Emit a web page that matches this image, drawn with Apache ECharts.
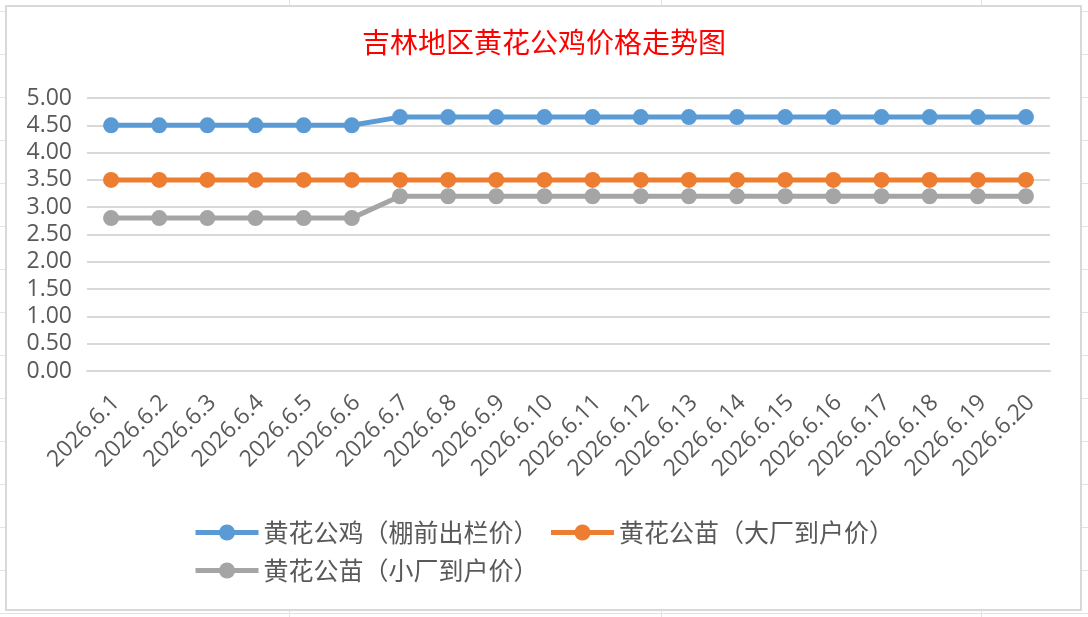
<!DOCTYPE html>
<html>
<head>
<meta charset="utf-8">
<script src="https://cdn.jsdelivr.net/npm/echarts@6/dist/echarts.min.js"></script>
<style>
html,body{margin:0;padding:0;}
body{
	width:1088px;height:617px;overflow:hidden;position:relative;
	background-color:#fff;
	/* 表格背景的行线和列线 */
	background-image:
		linear-gradient(to bottom, #e3e3e3 1px, transparent 1px),
		linear-gradient(to right, transparent 289px, #e3e3e3 289px, #e3e3e3 290px, transparent 290px, transparent 661px, #e3e3e3 661px, #e3e3e3 662px, transparent 662px, transparent 981px, #e3e3e3 981px, #e3e3e3 982px, transparent 982px);
	background-size:100% 43px, 100% 100%;
	background-position:0 11px, 0 0;
}
#frame{position:absolute;left:5px;top:5px;width:1073px;height:602px;border:2px solid #d9d9d9;background:#fff;}
#main{position:absolute;left:0;top:0;width:1088px;height:617px;}
</style>
</head>
<body>
<div id="frame"></div>
<div id="main"></div>
<script>
//横轴日期
var dates = ['2026.6.1','2026.6.2','2026.6.3','2026.6.4','2026.6.5','2026.6.6','2026.6.7','2026.6.8','2026.6.9','2026.6.10',
	'2026.6.11','2026.6.12','2026.6.13','2026.6.14','2026.6.15','2026.6.16','2026.6.17','2026.6.18','2026.6.19','2026.6.20'];
//黄花公鸡（棚前出栏价）
var roosterPrice = [4.50,4.50,4.50,4.50,4.50,4.50,4.65,4.65,4.65,4.65,4.65,4.65,4.65,4.65,4.65,4.65,4.65,4.65,4.65,4.65];
//黄花公苗（大厂到户价）
var chickBigPrice = [3.50,3.50,3.50,3.50,3.50,3.50,3.50,3.50,3.50,3.50,3.50,3.50,3.50,3.50,3.50,3.50,3.50,3.50,3.50,3.50];
//黄花公苗（小厂到户价）
var chickSmallPrice = [2.80,2.80,2.80,2.80,2.80,2.80,3.20,3.20,3.20,3.20,3.20,3.20,3.20,3.20,3.20,3.20,3.20,3.20,3.20,3.20];
var seriesNames = ['黄花公鸡（棚前出栏价）','黄花公苗（大厂到户价）','黄花公苗（小厂到户价）'];
var seriesColors = ['#5b9bd5','#ed7d31','#a5a5a5'];

var latinFont = '"Open Sans", "Noto Sans CJK SC", sans-serif';
var cjkFont = '"Noto Sans CJK SC", sans-serif';

var chart = echarts.init(document.getElementById('main'), null, {renderer:'canvas'});

function makeSeries(idx, data){
	return {
		name: seriesNames[idx],
		type: 'line',
		data: data,
		symbol: 'circle',
		symbolSize: 16,
		showSymbol: true,
		smooth: false,
		animation: false,
		itemStyle: {color: seriesColors[idx]},
		lineStyle: {color: seriesColors[idx], width: 5}
	};
}

var legendCommon = {
	left: 193,
	orient: 'horizontal',
	padding: 0,
	itemWidth: 63,
	itemHeight: 20,
	itemGap: 10,
	lineStyle: {width: 5},
	textStyle: {color:'#595959', fontSize:25, fontFamily:cjkFont}
};

var option = {
	backgroundColor: 'transparent',
	title: {
		text: '吉林地区黄花公鸡价格走势图',
		left: 'center',
		top: 23,
		textStyle: {color:'#ff0000', fontSize:28, fontWeight:'normal', fontFamily:cjkFont}
	},
	legend: [
		Object.assign({}, legendCommon, {top: 520, data: [seriesNames[0], seriesNames[1]]}),
		Object.assign({}, legendCommon, {top: 558, data: [seriesNames[2]]})
	],
	grid: {
		left: 87,
		right: 38,
		top: 98,
		bottom: 246,
		containLabel: false
	},
	xAxis: {
		type: 'category',
		data: dates,
		boundaryGap: true,
		axisLine: {show:true, lineStyle:{color:'#d9d9d9', width:2}},
		axisTick: {show:false},
		axisLabel: {
			interval: 0,
			rotate: 45,
			margin: 33,
			padding: [0,-7,0,0],
			color: '#595959',
			fontSize: 23,
			fontFamily: latinFont
		}
	},
	yAxis: {
		type: 'value',
		min: 0,
		max: 5,
		interval: 0.5,
		axisLine: {show:false},
		axisTick: {show:false},
		splitLine: {lineStyle:{color:'#d9d9d9', width:2}},
		axisLabel: {
			margin: 15,
			color: '#595959',
			fontSize: 23,
			fontFamily: latinFont,
			formatter: function(v){ return v.toFixed(2); }
		}
	},
	series: [
		makeSeries(0, roosterPrice),
		makeSeries(1, chickBigPrice),
		makeSeries(2, chickSmallPrice)
	]
};
chart.setOption(option);
</script>
</body>
</html>
